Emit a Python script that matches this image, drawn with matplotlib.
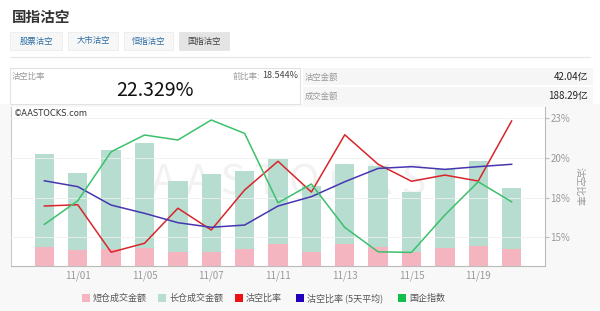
import numpy as np
import matplotlib
matplotlib.use('Agg')
import matplotlib.pyplot as plt
from matplotlib.patches import Rectangle

plt.rcParams['font.family'] = ['Noto Sans CJK SC', 'DejaVu Sans']

# trading days shown on the chart
dates = ['10/31', '11/01', '11/04', '11/05', '11/06', '11/07', '11/08', '11/11',
         '11/12', '11/13', '11/14', '11/15', '11/18', '11/19', '11/20']
tickDays = ['11/01', '11/05', '11/07', '11/11', '11/13', '11/15', '11/19']

# amounts in 亿
shortAmt = [46.7, 38.7, 40.4, 44.3, 34.6, 34.6, 41.1, 52.5,
            34.6, 53.2, 46.7, 33.2, 44.3, 47.7, 42.04]
longAmt = [224.3, 187.3, 240.6, 254.7, 171.4, 188.4, 189.9, 205.5,
           159.4, 192.8, 196.3, 146.8, 191.7, 206.3, 146.25]

# ratios in %
shortRatio = [16.97, 17.05, 14.06, 14.62, 16.83, 15.46, 17.98, 19.79,
              17.85, 21.46, 19.60, 18.53, 18.92, 18.544, 22.329]
avgRatio = [18.56, 18.19, 17.03, 16.51, 15.92, 15.63, 15.77, 16.97,
            17.56, 18.50, 19.34, 19.45, 19.28, 19.45, 19.60]
hscei = [10578, 10696, 10941, 11025, 11000, 11100, 11033, 10686,
         10780, 10563, 10441, 10438, 10625, 10791, 10691]

ratioTicks = [15, 17.5, 20, 22.5]
ratioLabels = ['15%', '18%', '20%', '23%']

W, H = 600, 311
fig = plt.figure(figsize=(6, 3.11), dpi=100)
fig.patch.set_facecolor('white')

def fx(px):
	return px / W

def fy(py):
	return 1 - py / H

# grey container of the chart
fig.patches.append(Rectangle((0, 0), 1, fy(104), transform=fig.transFigure,
                             color='#f8f8f8', zorder=-10))

# header
fig.text(fx(12), fy(17), '国指沽空', fontsize=10.5, fontweight='bold', color='#333333', va='center')
tabs = [('股票沽空', 10, 62), ('大市沽空', 68, 118), ('恒指沽空', 124, 173), ('国指沽空', 179, 229)]
for i, (name, x0, x1) in enumerate(tabs):
	sel = i == 3
	fig.patches.append(Rectangle((fx(x0), fy(50)), fx(x1 - x0), 18 / H, transform=fig.transFigure,
	                             facecolor='#e4e4e4' if sel else '#f7f7f7',
	                             edgecolor='#e4e4e4' if sel else '#ececec', lw=0.6))
	fig.text(fx((x0 + x1) / 2), fy(41), name, fontsize=6, ha='center', va='center',
	         color='#444444' if sel else '#2e6da4')
fig.add_artist(plt.Line2D([fx(10), fx(590)], [fy(57), fy(57)], transform=fig.transFigure,
                          color='#e6e6e6', lw=0.8))

# summary boxes
fig.patches.append(Rectangle((fx(10), fy(104)), fx(290), 36 / H, transform=fig.transFigure,
                             facecolor='white', edgecolor='#e2e2e2', lw=0.8))
fig.text(fx(12), fy(76), '沽空比率', fontsize=6, color='#999999', va='center')
fig.text(fx(298), fy(76), '18.544%', fontsize=6.5, color='#444444', va='center', ha='right')
fig.text(fx(260), fy(76), '前比率:', fontsize=6, color='#999999', va='center', ha='right')
fig.text(fx(155), fy(90), '22.329%', fontsize=14, color='#111111', va='center', ha='center')
for yy in (68, 87):
	fig.patches.append(Rectangle((fx(303), fy(yy + 17)), fx(290), 17 / H, transform=fig.transFigure,
	                             facecolor='#f6f6f6', edgecolor='none'))
fig.text(fx(305), fy(77), '沽空金额', fontsize=6, color='#999999', va='center')
fig.text(fx(588), fy(77), '42.04亿', fontsize=7, color='#222222', va='center', ha='right')
fig.text(fx(305), fy(96), '成交金额', fontsize=6, color='#999999', va='center')
fig.text(fx(588), fy(96), '188.29亿', fontsize=7, color='#222222', va='center', ha='right')

# chart
ax = fig.add_axes([fx(11), fy(266), fx(534), (266 - 107) / H])
ax.set_facecolor('white')
x = np.arange(len(dates))
ax.bar(x, shortAmt, width=0.58, color='#f4b5c0', zorder=2)
ax.bar(x, longAmt, bottom=shortAmt, width=0.58, color='#b7ddd1', zorder=2)
ax.set_ylim(0, 385)
ax.set_xlim(-1, 15)
ax.set_yticks([])
ax.set_xticks([dates.index(d) for d in tickDays])
ax.set_xticklabels(tickDays, fontsize=7, color='#999999')
ax.tick_params(axis='x', length=0, pad=3)
for s in ['top', 'right']:
	ax.spines[s].set_visible(False)
ax.spines['left'].set_color('#cccccc')
ax.spines['bottom'].set_color('#bbbbbb')

ax.text(0.006, 0.96, '©AASTOCKS.com', transform=ax.transAxes, fontsize=6,
        color='#333333', va='center', family=['DejaVu Sans'])
ax.text(0.52, 0.52, 'A A S T O C K S', transform=ax.transAxes, fontsize=30,
        color='#000000', alpha=0.05, ha='center', va='center', zorder=1)

ax2 = ax.twinx()
ax2.plot(x, shortRatio, color='#d8252b', lw=1.1, zorder=4)
ax2.plot(x, avgRatio, color='#4636b0', lw=1.1, zorder=4)
ax2.set_ylim(13.19, 23.21)
ax2.set_yticks(ratioTicks)
ax2.set_yticklabels(ratioLabels, fontsize=7, color='#999999')
ax2.tick_params(axis='y', length=3, color='#bbbbbb', pad=1)
ax2.grid(axis='y', color='#f0f0f0', lw=0.6)
ax2.set_axisbelow(True)
for s in ['top', 'left', 'bottom']:
	ax2.spines[s].set_visible(False)
ax2.spines['right'].set_color('#bbbbbb')
ax2.set_ylabel('沽空比率', fontsize=7, color='#999999', rotation=270, labelpad=10)

ax3 = ax.twinx()
ax3.plot(x, hscei, color='#3cc06c', lw=1.1, zorder=3)
ax3.set_ylim(10370, 11165)
ax3.axis('off')

# legend
items = [('短仓成交金额', '#f4b5c0', 82), ('长仓成交金额', '#b7ddd1', 158),
         ('沽空比率', '#ee1111', 235), ('沽空比率 (5天平均)', '#2200bb', 296),
         ('国企指数', '#11c04c', 398)]
for name, col, px in items:
	fig.patches.append(Rectangle((fx(px), fy(302)), fx(8), 8 / H, transform=fig.transFigure,
	                             facecolor=col, edgecolor='none'))
	fig.text(fx(px + 11), fy(298), name, fontsize=6.5, color='#555555', va='center')

fig.savefig('out.png', dpi=100, facecolor=fig.get_facecolor())
